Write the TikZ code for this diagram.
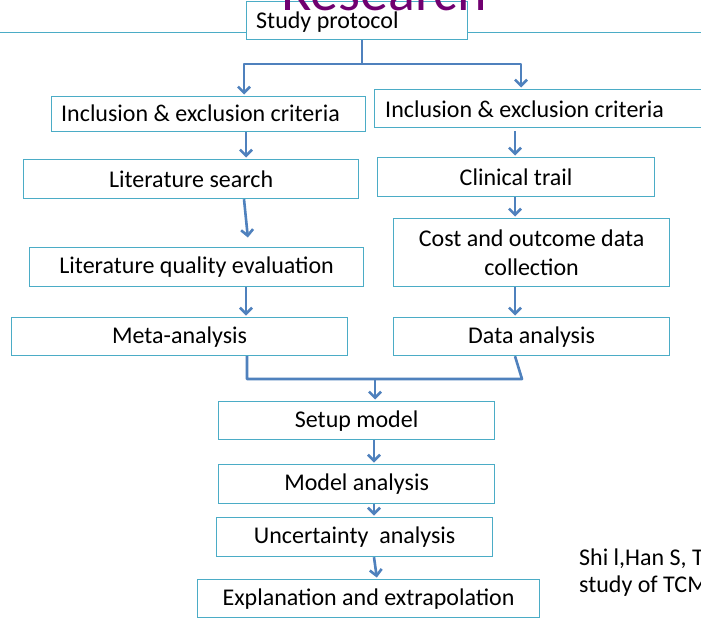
\documentclass[tikz,border=0pt]{standalone}
\usepackage{fontspec}
\setmainfont{Carlito}
\usetikzlibrary{arrows.meta}
\definecolor{boxline}{RGB}{75,172,198}
\definecolor{arrowc}{RGB}{79,129,189}
\definecolor{titlec}{RGB}{112,0,112}
\begin{document}
\begin{tikzpicture}[x=1pt,y=-1pt,
  box/.style={draw=boxline,line width=1.2pt,fill=white,inner sep=0pt,anchor=north west,align=center,font=\fontsize{24}{29}\selectfont},
  txt/.style={anchor=base west,inner sep=0pt,font=\fontsize{24}{29}\selectfont},
  arr/.style={draw=arrowc,line width=2.6pt,line join=round,shorten >=1.5pt,-{Straight Barb[length=6pt,width=12pt]}},
  conn/.style={draw=arrowc,line width=2.6pt,line join=round}]
\useasboundingbox (0,0) rectangle (701,618);
\clip (0,0) rectangle (701,618);
\fill[white] (0,0) rectangle (701,618);
% header rule
\coordinate (hl) at (0,33);
\coordinate (hr) at (701,33);
\draw[boxline,line width=1pt] (hl) -- (hr);
% boxes
\node[box,minimum width=221pt,minimum height=38pt] (sp) at (246,1) {};
\node[txt] (spt) at (256,29) {Study protocol};
\node[font=\fontsize{56}{60}\selectfont,text=titlec,anchor=base,inner sep=0pt] (title) at (384,11) {Research};
\node[box,minimum width=314pt,minimum height=35pt] (inL) at (51,96) {};
\node[txt] (inLt) at (61,121) {Inclusion \& exclusion criteria};
\node[box,minimum width=330pt,minimum height=38pt] (inR) at (374,89) {};
\node[txt] (inRt) at (385,117) {Inclusion \& exclusion criteria};
\node[box,minimum width=335pt,minimum height=39pt] (lit) at (23,159) {Literature search};
\node[box,minimum width=277pt,minimum height=39pt] (ct) at (377,157) {Clinical trail};
\node[box,minimum width=334pt,minimum height=39pt] (lqe) at (29,247) {Literature quality evaluation};
\node[box,minimum width=276pt,minimum height=68pt] (cost) at (393,218) {Cost and outcome data\\collection};
\node[box,minimum width=336pt,minimum height=38pt] (meta) at (11,317) {Meta-analysis};
\node[box,minimum width=276pt,minimum height=38pt] (da) at (393,317) {Data analysis};
\node[box,minimum width=276pt,minimum height=38pt] (setup) at (218,401) {Setup model};
\node[box,minimum width=276pt,minimum height=39pt] (ma) at (218,464) {Model analysis};
\node[box,minimum width=276pt,minimum height=39pt] (ua) at (216,517) {Uncertainty\ \ analysis};
\node[box,minimum width=342pt,minimum height=38pt] (ee) at (197,579) {Explanation and extrapolation};
% citation
\node[txt] (cit1) at (579,565) {Shi l,Han S, T};
\node[txt] (cit2) at (579,592) {study of TCM};
% connector coordinates
\coordinate (xS) at (362,0);
\coordinate (jM) at (362,64);
\coordinate (jL) at (244,64);
\coordinate (jR) at (521,64);
\coordinate (xL) at (246,0);
\coordinate (xL2) at (248,0);
\coordinate (xR) at (515,0);
\coordinate (xC) at (374,0);
\coordinate (xC2) at (377,0);
\coordinate (mL) at (247,379);
\coordinate (mR) at (522,379);
\coordinate (mC) at (375,379);
% connectors
\draw[conn] (xS |- sp.south) -- (jM);
\draw[arr] (jM) -- (jL) -- (jL |- inL.north);
\draw[arr] (jM) -- (jR) -- (jR |- inR.north);
\draw[arr] (xL |- inL.south) -- (xL |- lit.north);
\draw[arr] ([yshift=-3pt]xR |- inR.south) -- (xR |- ct.north);
\draw[arr] ([xshift=-2pt]xL |- lit.south) -- ([yshift=8pt]xL2 |- lqe.north);
\draw[arr] (xL |- lqe.south) -- (xL |- meta.north);
\draw[arr] (xR |- ct.south) -- (xR |- cost.north);
\draw[arr] (xR |- cost.south) -- (xR |- da.north);
\draw[conn] (mL |- meta.south) -- (mL) -- (mR) -- (xR |- da.south);
\draw[arr] (mC) -- (mC |- setup.north);
\draw[arr] (xC |- setup.south) -- (xC |- ma.north);
\draw[arr] (xC |- ma.south) -- (xC |- ua.north);
\draw[arr] (xC |- ua.south) -- (xC2 |- ee.north);
\end{tikzpicture}
\end{document}
